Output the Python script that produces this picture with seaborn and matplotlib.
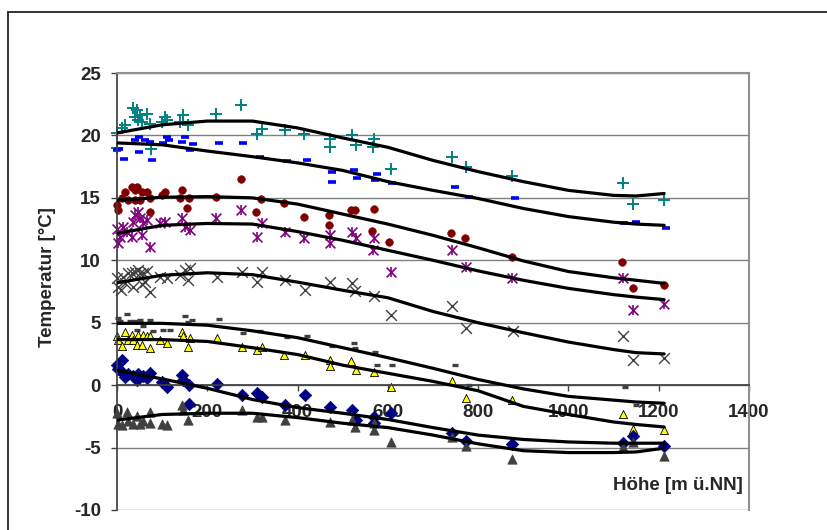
import seaborn as sns
from matplotlib import pyplot as plt
from matplotlib.patches import Rectangle

# Messpunkte je Monat/Reihe (Höhe in m, Temperatur in °C)
teal_x = [0, 0, 10, 18, 35, 40, 44, 47, 51, 55, 66, 73, 75, 99, 106, 110, 140, 146, 158, 220, 274, 310, 321, 373, 415, 471, 471, 521, 530, 567, 569, 606, 743, 772, 876, 1120, 1144, 1212]
teal_y = [20.2, 19.0, 20.6, 20.8, 22.2, 21.5, 22.0, 21.2, 21.6, 21.1, 21.7, 20.95, 18.95, 21.1, 21.5, 21.2, 21.1, 21.6, 20.8, 21.75, 22.4, 20.15, 20.55, 20.4, 20.15, 19.75, 19.1, 20.0, 19.2, 19.1, 19.75, 17.35, 18.3, 17.5, 16.75, 16.15, 14.5, 14.8]

blue_x = [0, 4, 15, 40, 49, 49, 62, 73, 78, 103, 110, 116, 144, 151, 162, 168, 225, 280, 317, 376, 421, 476, 476, 524, 532, 576, 572, 609, 748, 779, 881, 1123, 1149, 1216]
blue_y = [18.8, 18.9, 18.15, 19.6, 19.9, 18.7, 19.6, 19.5, 18.0, 19.4, 19.9, 19.6, 19.5, 19.9, 18.8, 19.3, 19.4, 19.4, 18.3, 17.95, 18.0, 17.1, 16.3, 17.2, 16.6, 16.95, 16.45, 16.2, 15.9, 15.1, 14.95, 13.0, 13.1, 12.6]

red_x = [0, 3, 10, 18, 25, 33, 40, 40, 44, 51, 55, 66, 72, 73, 99, 106, 140, 144, 156, 160, 220, 274, 308, 319, 371, 415, 469, 469, 518, 528, 569, 565, 603, 740, 771, 875, 1118, 1143, 1211]
red_y = [14.4, 14.0, 14.95, 15.5, 14.8, 15.9, 15.6, 14.8, 15.9, 14.8, 15.5, 15.5, 14.95, 13.9, 15.2, 15.5, 14.95, 15.6, 14.2, 14.95, 15.1, 16.5, 13.9, 14.9, 14.55, 13.5, 13.6, 12.85, 14.0, 14.0, 14.1, 12.35, 11.5, 12.2, 11.75, 10.3, 9.9, 7.8, 8.0]

purple_x = [0, 3, 7, 14, 22, 33, 36, 40, 47, 51, 55, 58, 66, 73, 95, 106, 144, 151, 162, 220, 274, 310, 321, 373, 415, 471, 471, 521, 530, 570, 567, 606, 743, 773, 876, 1120, 1144, 1212]
purple_y = [12.5, 11.35, 11.9, 12.7, 12.3, 11.9, 13.1, 13.6, 13.9, 13.35, 12.0, 12.95, 13.2, 11.05, 12.95, 13.1, 13.35, 12.7, 12.45, 13.35, 14.0, 11.9, 12.95, 12.3, 11.8, 12.0, 11.35, 12.3, 11.75, 11.8, 10.8, 9.1, 10.8, 9.5, 8.6, 8.6, 6.0, 6.5]

grayx_x = [0, 3, 8, 14, 18, 25, 33, 36, 40, 47, 51, 55, 58, 62, 66, 73, 95, 110, 140, 151, 158, 162, 221, 277, 310, 321, 373, 417, 471, 521, 528, 569, 606, 743, 772, 877, 1120, 1144, 1212]
grayx_y = [8.55, 7.9, 7.6, 8.7, 8.2, 8.95, 8.95, 7.9, 9.1, 9.2, 9.0, 8.1, 9.0, 8.3, 9.15, 7.45, 8.7, 8.55, 8.8, 9.2, 8.45, 9.35, 8.7, 9.05, 8.3, 9.05, 8.45, 7.6, 8.3, 8.15, 7.55, 7.1, 5.6, 6.35, 4.6, 4.3, 3.9, 2.0, 2.2]

dash_x = [3, 7, 22, 29, 40, 51, 58, 44, 73, 79, 103, 118, 151, 158, 166, 225, 280, 317, 376, 421, 476, 524, 528, 572, 576, 609, 748, 779, 1125, 1149]
dash_y = [5.4, 5.1, 5.7, 5.15, 5.15, 5.2, 4.7, 4.4, 5.2, 4.35, 4.45, 4.45, 5.5, 5.05, 5.2, 5.3, 4.15, 4.3, 3.85, 3.95, 3.1, 3.35, 3.0, 2.65, 1.6, 1.6, 1.6, 0.0, -0.15, -1.6]

yellow_x = [0, 3, 10, 18, 25, 33, 36, 44, 47, 55, 58, 66, 73, 73, 95, 110, 144, 146, 158, 162, 221, 277, 310, 321, 371, 416, 471, 471, 519, 530, 569, 606, 743, 774, 876, 1120, 1144, 1212]
yellow_y = [3.9, 3.6, 3.1, 4.25, 3.6, 4.0, 3.6, 3.2, 4.0, 3.2, 4.0, 3.9, 3.9, 2.95, 3.6, 3.4, 4.25, 3.9, 3.05, 3.8, 3.8, 3.05, 2.8, 3.05, 2.4, 2.4, 2.0, 1.5, 1.95, 1.25, 1.05, -0.15, 0.3, -1.05, -1.15, -2.3, -3.55, -3.6]

navy_x = [0, 3, 10, 14, 18, 25, 36, 44, 47, 58, 66, 73, 99, 110, 144, 147, 160, 160, 221, 277, 310, 321, 373, 417, 471, 521, 530, 569, 570, 606, 743, 774, 876, 1120, 1144, 1212]
navy_y = [1.6, 1.3, 2.0, 1.0, 0.65, 0.9, 0.7, 0.4, 0.9, 0.75, 0.55, 0.95, 0.25, -0.15, 0.8, 0.4, 0.0, -1.55, 0.1, -0.8, -0.6, -0.95, -1.6, -0.8, -1.75, -2.0, -2.8, -2.55, -3.05, -2.25, -3.8, -4.45, -4.7, -4.65, -4.05, -4.9]

tri_x = [0, 3, 10, 22, 25, 36, 44, 51, 58, 73, 73, 99, 110, 144, 146, 158, 277, 310, 321, 373, 471, 521, 528, 569, 569, 606, 743, 774, 876, 1120, 1144, 1212]
tri_y = [-2.25, -3.1, -3.2, -2.15, -2.9, -3.1, -2.45, -3.1, -2.9, -2.15, -3.0, -3.1, -3.2, -1.6, -2.0, -2.8, -2.0, -2.55, -2.55, -2.8, -2.95, -2.8, -3.35, -3.05, -3.6, -4.55, -4.15, -4.9, -5.95, -4.95, -4.55, -5.65]

# Ausgleichskurven
fit_x = [0, 100, 200, 300, 400, 500, 600, 700, 800, 900, 1000, 1100, 1150, 1212]
fit_teal = [20.2, 20.85, 21.15, 21.15, 20.6, 19.8, 19.05, 18.0, 17.1, 16.3, 15.6, 15.2, 15.15, 15.35]
fit_blue = [19.4, 19.25, 18.75, 18.3, 17.8, 17.2, 16.3, 15.6, 14.95, 14.15, 13.5, 13.05, 12.9, 12.8]
fit_red = [14.8, 15.05, 15.1, 15.0, 14.5, 13.7, 12.9, 12.0, 11.0, 9.95, 9.1, 8.6, 8.4, 8.15]
fit_purple = [12.15, 12.8, 12.95, 12.9, 12.3, 11.6, 10.8, 10.0, 9.15, 8.4, 7.75, 7.25, 7.05, 6.85]
fit_grayx = [8.2, 8.8, 9.0, 8.85, 8.25, 7.6, 7.0, 5.9, 5.0, 4.2, 3.45, 2.85, 2.6, 2.5]
fit_dash = [4.95, 4.95, 4.8, 4.35, 3.8, 3.0, 2.2, 1.35, 0.45, -0.3, -0.9, -1.2, -1.35, -1.45]
fit_yellow = [3.65, 3.65, 3.5, 3.0, 2.45, 1.6, 0.95, 0.3, -0.45, -1.7, -2.35, -2.95, -3.15, -3.35]
fit_navy = [1.2, 0.5, -0.25, -1.15, -1.8, -2.25, -2.75, -3.4, -4.0, -4.35, -4.55, -4.65, -4.65, -4.65]
fit_tri = [-2.8, -2.35, -2.25, -2.25, -2.6, -3.05, -3.4, -4.0, -4.7, -5.25, -5.4, -5.4, -5.35, -5.05]

sns.set_theme(style='white')
plt.rcParams['font.family'] = ['Liberation Sans', 'DejaVu Sans']
plt.rcParams['axes.unicode_minus'] = False

fig = plt.figure(figsize=(8.28, 5.3), dpi=100)
ax = fig.add_axes([117/828, 1 - 510/530, 632/828, 437/530])

# Rahmen des Diagrammbereichs (rechts und unten abgeschnitten)
fig.add_artist(Rectangle((8/828, -0.1), 1.2, 0.1 + 1 - 12/530, transform=fig.transFigure,
                         fill=False, edgecolor='#222222', linewidth=1.3))

kw = dict(ax=ax, legend=False, clip_on=False, zorder=1)
sns.scatterplot(x=teal_x, y=teal_y, marker='+', s=85, color='#008080', linewidth=1.4, **kw)
sns.scatterplot(x=blue_x, y=blue_y, marker='_', s=28, color='#0000FF', linewidth=2.6, **kw)
sns.scatterplot(x=red_x, y=red_y, marker='o', s=30, color='#800000', edgecolor='#800000', **kw)
sns.scatterplot(x=purple_x, y=purple_y, marker='x', s=50, color='#800080', linewidth=1.2, **kw)
sns.scatterplot(x=purple_x, y=purple_y, marker='|', s=55, color='#800080', linewidth=1.2, **kw)
sns.scatterplot(x=grayx_x, y=grayx_y, marker='x', s=60, color='#404040', linewidth=1.0, **kw)
sns.scatterplot(x=dash_x, y=dash_y, marker='_', s=22, color='#404040', linewidth=2.4, **kw)
sns.scatterplot(x=yellow_x, y=yellow_y, marker='^', s=34, color='#FFFF00', edgecolor='black', linewidth=0.6, **kw)
sns.scatterplot(x=navy_x, y=navy_y, marker='D', s=40, color='#000080', edgecolor='#000080', **kw)
sns.scatterplot(x=tri_x, y=tri_y, marker='^', s=45, color='#404040', edgecolor='#404040', **kw)

for fy in [fit_teal, fit_blue, fit_red, fit_purple, fit_grayx, fit_dash, fit_yellow, fit_navy, fit_tri]:
    sns.lineplot(x=fit_x, y=fy, color='black', linewidth=2.3, ax=ax, zorder=3)

ax.set_xlim(0, 1400)
ax.set_ylim(-10, 25)
ax.set_xticks(range(0, 1401, 200))
ax.set_yticks(range(-10, 26, 5))
ax.grid(axis='y', color='#808080', linewidth=1)
ax.grid(axis='x', visible=False)

ax.spines['bottom'].set_position(('data', 0))
ax.spines['bottom'].set_color('#404040')
ax.spines['left'].set_color('#404040')
for s in ['top', 'right']:
    ax.spines[s].set_color('#909090')
    ax.spines[s].set_linewidth(1.5)

ax.tick_params(axis='both', direction='out', length=4.5, width=1, color='#404040',
               labelsize=13.5, bottom=True, left=True)
ax.tick_params(axis='x', pad=9)
ax.tick_params(axis='y', pad=7)
for lab in ax.get_xticklabels() + ax.get_yticklabels():
    lab.set_fontweight('bold')

ax.set_xlabel('')
ax.set_ylabel('')
fig.text(48/828, 1 - 277/530, 'Temperatur [°C]', rotation=90, ha='center', va='center',
         fontsize=13.5, fontweight='bold')
fig.text(743/828, 1 - 486/530, 'Höhe [m ü.NN]', ha='right', va='center',
         fontsize=13.5, fontweight='bold')

plt.savefig('out.png', dpi=100)
